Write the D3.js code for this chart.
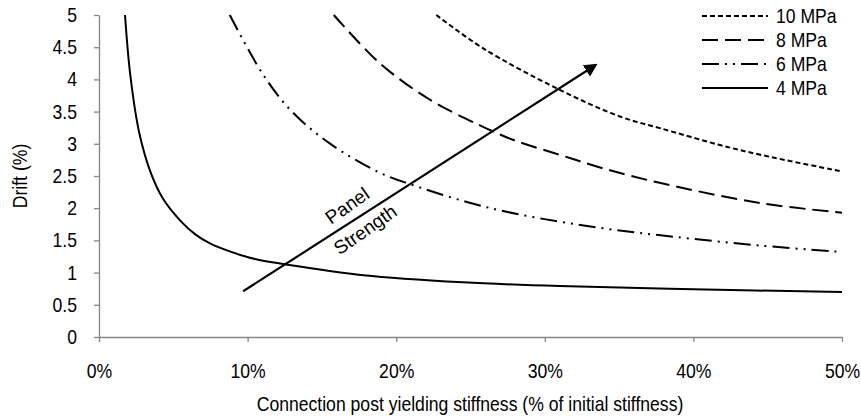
<!DOCTYPE html>
<html>
<head>
<meta charset="utf-8">
<script src="https://cdn.jsdelivr.net/npm/d3@7"></script>
<style>
  body { margin: 0; background: #fff; }
  svg text { font-family: 'Liberation Sans', Arial, sans-serif; fill: #000; }
  .axis path, .axis line { stroke: #868686; stroke-width: 1.3; }
</style>
</head>
<body>
<div id="chart"></div>
<script>

// data: x = post yielding stiffness (%), y = drift (%)
var x10 = [22.7, 25.8, 30.9, 35.1, 37.8, 41.8, 44.5, 50];
var y10 = [5.0, 4.49, 3.85, 3.42, 3.24, 2.98, 2.83, 2.57];

var x8 = [15.8, 18.9, 22.3, 25.6, 28.0, 31.0, 33.9, 37.8, 44.5, 50];
var y8 = [5.0, 4.25, 3.68, 3.29, 3.05, 2.83, 2.62, 2.39, 2.08, 1.93];

var x6 = [8.8, 11.0, 12.9, 15.5, 18.9, 21.5, 24.7, 27.5, 31.0, 34.5, 38.5, 44.5, 50];
var y6 = [5.0, 4.09, 3.52, 3.01, 2.55, 2.33, 2.10, 1.94, 1.79, 1.67, 1.56, 1.42, 1.32];

var x4 = [1.75, 2.1, 2.7, 3.5, 4.3, 5.5, 6.5, 7.5, 8.8, 10.5, 12.5, 17.8, 24.5, 31, 40, 50];
var y4 = [5.0, 4.08, 3.18, 2.54, 2.15, 1.80, 1.59, 1.45, 1.33, 1.21, 1.13, 0.96, 0.85, 0.79, 0.74, 0.70];

var seriesNames = ['10 MPa', '8 MPa', '6 MPa', '4 MPa'];
var xTicks = [0, 10, 20, 30, 40, 50];
var yTicks = [0, 0.5, 1, 1.5, 2, 2.5, 3, 3.5, 4, 4.5, 5];

// arrow "Panel Strength" in data units
var arrowX = [9.7, 33.4];
var arrowY = [0.71, 4.22];

var series = [
    { name: seriesNames[0], x: x10, y: y10, dash: '5,3' },
    { name: seriesNames[1], x: x8, y: y8, dash: '16,7' },
    { name: seriesNames[2], x: x6, y: y6, dash: '17,6,2,6,2,6' },
    { name: seriesNames[3], x: x4, y: y4, dash: null }
];

var width = 861, height = 418;
var squeeze = 0.88;   // chart font is a condensed sans

// condense a text horizontally around its anchor point
function narrow(sel) {
    sel.each(function () {
        var t = d3.select(this);
        var x = +t.attr('x') || 0, y = +t.attr('y') || 0;
        t.attr('x', 0).attr('y', 0)
         .attr('transform', `translate(${x},${y}) scale(${squeeze},1)`);
    });
}

var svg = d3.select('#chart').append('svg')
    .attr('width', width)
    .attr('height', height);

var xScale = d3.scaleLinear().domain([0, 50]).range([99, 842]);
var yScale = d3.scaleLinear().domain([0, 5]).range([337, 15]);

svg.append('g')
    .attr('class', 'axis')
    .attr('transform', `translate(0,${yScale(0)})`)
    .call(d3.axisBottom(xScale).tickValues(xTicks).tickSize(5).tickSizeOuter(0).tickPadding(22).tickFormat(d => d + '%'))
    .call(g => g.selectAll('text').style('font-size', '20px').call(narrow));

svg.append('g')
    .attr('class', 'axis')
    .attr('transform', `translate(${xScale(0)},0)`)
    .call(d3.axisLeft(yScale).tickValues(yTicks).tickSize(5).tickSizeOuter(0).tickPadding(17).tickFormat(d3.format('')))
    .call(g => g.selectAll('text').style('font-size', '20px').call(narrow));

// axis titles
svg.append('text')
    .attr('x', 470)
    .attr('y', 411)
    .attr('text-anchor', 'middle')
    .style('font-size', '20px')
    .text('Connection post yielding stiffness (% of initial stiffness)')
    .call(narrow);

svg.append('text')
    .attr('transform', `translate(27,176) rotate(-90) scale(${squeeze},1)`)
    .attr('text-anchor', 'middle')
    .style('font-size', '20px')
    .text('Drift (%)');

var line = d3.line()
    .x(d => xScale(d[0]))
    .y(d => yScale(d[1]))
    .curve(d3.curveCatmullRom.alpha(0.5));

svg.append('g').selectAll('path')
    .data(series)
    .enter()
    .append('path')
    .attr('d', s => line(s.x.map((v, i) => [v, s.y[i]])))
    .attr('fill', 'none')
    .attr('stroke', '#000')
    .attr('stroke-width', 2)
    .attr('stroke-dasharray', s => s.dash);

// arrow
svg.append('defs').append('marker')
    .attr('id', 'head')
    .attr('viewBox', '0 0 10 10')
    .attr('refX', 8)
    .attr('refY', 5)
    .attr('markerWidth', 6)
    .attr('markerHeight', 6)
    .attr('markerUnits', 'strokeWidth')
    .attr('orient', 'auto')
    .append('path')
    .attr('d', 'M0,0L10,5L0,10z')
    .attr('fill', '#000');

svg.append('line')
    .attr('x1', xScale(arrowX[0]))
    .attr('y1', yScale(arrowY[0]))
    .attr('x2', xScale(arrowX[1]))
    .attr('y2', yScale(arrowY[1]))
    .attr('stroke', '#000')
    .attr('stroke-width', 2.2)
    .attr('marker-end', 'url(#head)');

svg.append('text')
    .attr('transform', 'translate(351,211) rotate(-35)')
    .attr('text-anchor', 'middle')
    .style('font-size', '19px')
    .text('Panel');

svg.append('text')
    .attr('transform', 'translate(369,235) rotate(-35)')
    .attr('text-anchor', 'middle')
    .style('font-size', '19px')
    .text('Strength');

// legend
var legend = svg.append('g')
    .attr('transform', 'translate(702,16)');

var row = legend.selectAll('g')
    .data(series)
    .enter()
    .append('g')
    .attr('transform', (d, i) => `translate(0,${i * 24})`);

row.append('line')
    .attr('x1', 0)
    .attr('x2', 66)
    .attr('stroke', '#000')
    .attr('stroke-width', 2)
    .attr('stroke-dasharray', d => d.dash);

row.append('text')
    .attr('x', 74)
    .attr('y', 7)
    .style('font-size', '20px')
    .text(d => d.name)
    .call(narrow);

</script>
</body>
</html>
